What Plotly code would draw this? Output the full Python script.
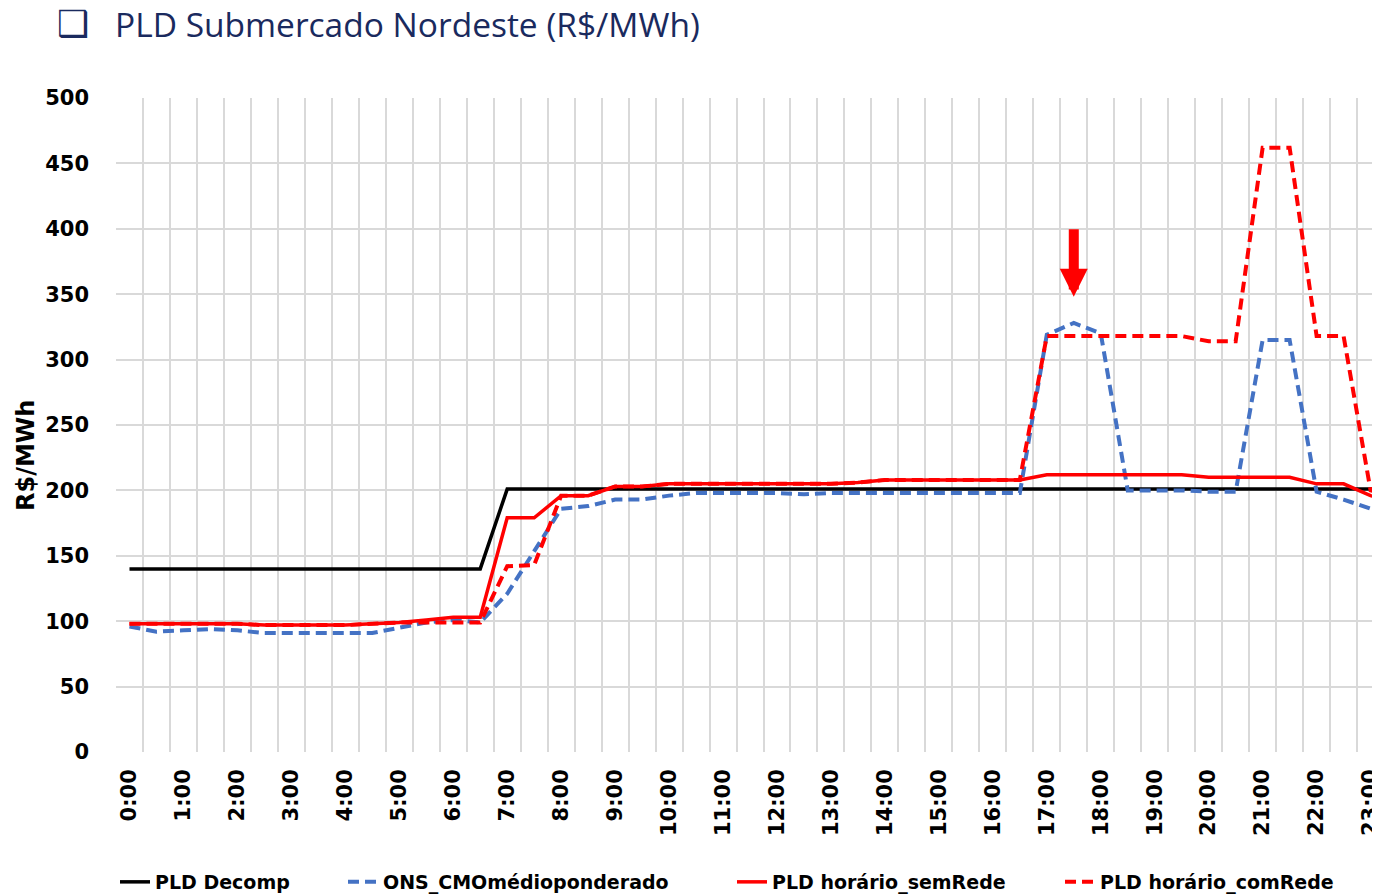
import plotly.graph_objects as go

# ---------------- data ----------------
hours = ["0:00", "1:00", "2:00", "3:00", "4:00", "5:00", "6:00", "7:00", "8:00", "9:00",
         "10:00", "11:00", "12:00", "13:00", "14:00", "15:00", "16:00", "17:00", "18:00",
         "19:00", "20:00", "21:00", "22:00", "23:00"]
# half-hour slots 0:00, 0:30, ... 23:30
slots = list(range(48))
tick_slots = [0, 2, 4, 6, 8, 10, 12, 14, 16, 18, 20, 22, 24, 26, 28, 30, 32, 34, 36, 38, 40, 42, 44, 46]

pld_decomp = [140, 140, 140, 140, 140, 140, 140, 140, 140, 140, 140, 140, 140, 140,
              201, 201, 201, 201, 201, 201, 201, 201, 201, 201, 201, 201, 201, 201,
              201, 201, 201, 201, 201, 201, 201, 201, 201, 201, 201, 201, 201, 201,
              201, 201, 201, 201, 201, 201]

ons_cmo = [96, 92, 93, 94, 93, 91, 91, 91, 91, 91, 95, 99, 101, 99,
           121, 153, 186, 188, 193, 193, 196, 198, 198, 198, 198, 197, 198, 198,
           198, 198, 198, 198, 198, 198, 319, 328, 320, 200, 200, 200, 199, 199,
           315, 315, 199, 193, 186, 180]

pld_sem = [98, 98, 98, 98, 98, 97, 97, 97, 97, 98, 99, 101, 103, 103,
           179, 179, 196, 196, 203, 203, 205, 205, 205, 205, 205, 205, 205, 206,
           208, 208, 208, 208, 208, 208, 212, 212, 212, 212, 212, 212, 210, 210,
           210, 210, 205, 205, 196, 190]

pld_com = [98, 98, 98, 98, 98, 97, 97, 97, 97, 98, 99, 99, 99, 99,
           142, 143, 196, 196, 203, 203, 205, 205, 205, 205, 205, 205, 205, 206,
           208, 208, 208, 208, 208, 208, 318, 318, 318, 318, 318, 318, 314, 314,
           462, 462, 318, 318, 200, 195]

names = ["PLD Decomp", "ONS_CMOmédioponderado", "PLD horário_semRede", "PLD horário_comRede"]

arrow_slot = 35
arrow_value = 348

# ---------------- layout helpers ----------------
# the page body has an 8px margin, so the figure is drawn 8px smaller and all
# screen-pixel positions below are shifted by that offset
OFF = 8
W, H = 1380 - OFF, 896 - OFF
PL, PR, PT, PB = 116 - OFF, 1380 - OFF, 98 - OFF, 752 - OFF


def px_x(px):
    return (px - OFF - PL) / (PR - PL)


def px_y(py):
    return (PB - (py - OFF)) / (PB - PT)


fig = go.Figure()

styles = [
    dict(color="#000000", width=3.5),
    dict(color="#4472C4", width=4, dash="11px,6px"),
    dict(color="#FF0000", width=3.5),
    dict(color="#FF0000", width=4, dash="11px,6px"),
]
series = [pld_decomp, ons_cmo, pld_sem, pld_com]
legends = ["legend", "legend2", "legend3", "legend4"]

for nm, ys, st, lg in zip(names, series, styles, legends):
    fig.add_trace(go.Scatter(x=slots, y=ys, name=nm, mode="lines", line=st,
                             legend=lg, showlegend=True))

tick_font = dict(family="DejaVu Sans", size=21, color="#000000", weight="bold")
legend_font = dict(family="DejaVu Sans", size=19, color="#000000", weight="bold")

leg_text_px = [155, 383, 772, 1100]
leg_common = dict(orientation="h", yanchor="middle", y=px_y(882), xanchor="left",
                  bgcolor="rgba(0,0,0,0)", font=legend_font, borderwidth=0)
fig.update_layout(
    legend=dict(x=px_x(leg_text_px[0] - 40), **leg_common),
    legend2=dict(x=px_x(leg_text_px[1] - 40), **leg_common),
    legend3=dict(x=px_x(leg_text_px[2] - 40), **leg_common),
    legend4=dict(x=px_x(leg_text_px[3] - 40), **leg_common),
)

fig.update_layout(
    width=W, height=H,
    margin=dict(l=PL, r=W - PR, t=PT, b=H - PB, autoexpand=False),
    paper_bgcolor="#ffffff", plot_bgcolor="#ffffff",
    xaxis=dict(
        range=[-0.5, 46.35], automargin=False,
        tickmode="array", tickvals=tick_slots, ticktext=hours,
        tickangle=-90, tickfont=dict(family="DejaVu Sans", size=21, color="#000000", weight="bold"),
        showgrid=False, zeroline=False, showline=False, ticks="",
        ticklabelstandoff=12, ticklabeloverflow="allow",
        minor=dict(tickmode="linear", tick0=-0.5, dtick=1, showgrid=True,
                   gridcolor="#d9d9d9", gridwidth=1.5, ticks=""),
    ),
    yaxis=dict(
        range=[0, 500], tickmode="linear", tick0=0, dtick=50, automargin=False,
        showgrid=True, gridcolor="#d9d9d9", gridwidth=1.5,
        zeroline=False, showline=False, ticks="",
        tickfont=tick_font, ticklabelstandoff=26,
    ),
    showlegend=True,
)

fig.add_annotation(x=px_x(26), y=px_y(456), xref="paper", yref="paper",
                   xanchor="center", yanchor="middle", showarrow=False, textangle=-90,
                   text="R$/MWh",
                   font=dict(family="DejaVu Sans", size=24, color="#000000", weight="bold"))

fig.add_annotation(x=arrow_slot, y=arrow_value, xref="x", yref="y", text="",
                   showarrow=True, ax=0, ay=-69, arrowhead=2, arrowwidth=10,
                   arrowsize=0.56, arrowcolor="#FF0000")

fig.add_annotation(x=px_x(113), y=px_y(24), xref="paper", yref="paper",
                   xanchor="left", yanchor="middle", showarrow=False, height=36,
                   text="PLD Submercado Nordeste (R$/MWh)",
                   font=dict(family="Open Sans", size=33.5, color="#1a2a5e"))
fig.add_annotation(x=px_x(73), y=px_y(23), xref="paper", yref="paper",
                   xanchor="center", yanchor="middle", showarrow=False, height=34,
                   text="❑", font=dict(family="DejaVu Sans", size=36, color="#1a2a5e",
                                       weight="bold"))

fig.write_html("out.html")
